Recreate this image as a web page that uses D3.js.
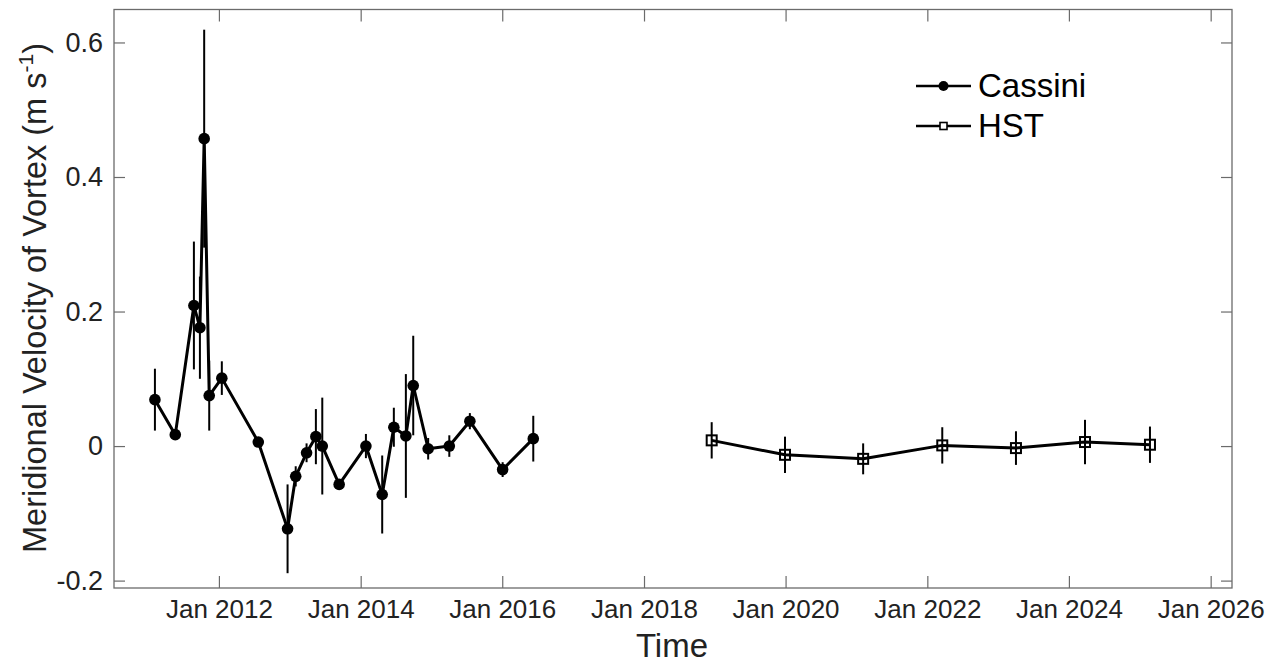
<!DOCTYPE html>
<html>
<head>
<meta charset="utf-8">
<script src="https://cdn.jsdelivr.net/npm/d3@7"></script>
<style>
  html, body { margin: 0; padding: 0; background: #fff; }
  svg { display: block; font-family: "Liberation Sans", Arial, Helvetica, sans-serif; }
</style>
</head>
<body>
<svg id="chart" width="1276" height="666"></svg>
<script>
// ---- Data ----
const cassiniDates = ["2011-02-05","2011-05-21","2011-08-25","2011-09-25","2011-10-17","2011-11-12",
  "2012-01-16","2012-07-22","2012-12-20","2013-01-31","2013-03-28","2013-05-15","2013-06-17",
  "2013-09-12","2014-01-28","2014-04-22","2014-06-21","2014-08-22","2014-09-29","2014-12-15",
  "2015-04-03","2015-07-18","2016-01-03","2016-06-09"];
const cassiniValues = [0.069, 0.017, 0.209, 0.176, 0.457, 0.075, 0.101, 0.006, -0.123, -0.045,
  -0.010, 0.014, 0.000, -0.057, 0.000, -0.072, 0.028, 0.015, 0.090, -0.004, 0.000, 0.037, -0.035, 0.011];
const cassiniErrors = [0.046, 0.007, 0.095, 0.076, 0.162, 0.052, 0.025, 0.004, 0.066, 0.015,
  0.014, 0.041, 0.072, 0.005, 0.018, 0.058, 0.029, 0.092, 0.074, 0.016, 0.016, 0.012, 0.011, 0.034];

const hstDates = ["2018-12-16","2019-12-29","2021-02-04","2022-03-19","2023-04-03","2024-03-24","2025-02-22"];
const hstValues = [0.0085, -0.013, -0.019, 0.001, -0.003, 0.006, 0.002];
const hstErrors = [0.027, 0.027, 0.023, 0.027, 0.025, 0.033, 0.027];

const xTickDates = ["2012-01-01","2014-01-01","2016-01-01","2018-01-01","2020-01-01","2022-01-01","2024-01-01","2026-01-01"];
const xTickLabels = ["Jan 2012","Jan 2014","Jan 2016","Jan 2018","Jan 2020","Jan 2022","Jan 2024","Jan 2026"];
const yTickValues = [-0.2, 0, 0.2, 0.4, 0.6];
const yTickLabels = ["-0.2","0","0.2","0.4","0.6"];
const xLimits = ["2010-07-09","2026-04-21"];
const yLimits = [-0.211, 0.649];
const legendLabels = ["Cassini","HST"];

// ---- Layout ----
const parse = d3.utcParse("%Y-%m-%d");
const svg = d3.select("#chart");
const L = 114, R = 1232, T = 9.5, B = 588;
const axisColor = "#6b6b6b";
const textColor = "#222";

const x = d3.scaleUtc().domain(xLimits.map(parse)).range([L, R]);
const y = d3.scaleLinear().domain(yLimits).range([B, T]);

const cassini = cassiniDates.map((d, i) => ({ date: parse(d), v: cassiniValues[i], e: cassiniErrors[i] }));
const hst = hstDates.map((d, i) => ({ date: parse(d), v: hstValues[i], e: hstErrors[i] }));

// ---- Axes ----
const xTicks = xTickDates.map(parse);
const bottomAxis = d3.axisBottom(x).tickValues(xTicks).tickSizeInner(-12).tickSizeOuter(0)
  .tickPadding(12).tickFormat((d, i) => xTickLabels[i]);
const topAxis = d3.axisTop(x).tickValues(xTicks).tickSizeInner(-12).tickSizeOuter(0).tickFormat("");
const leftAxis = d3.axisLeft(y).tickValues(yTickValues).tickSizeInner(-11).tickSizeOuter(0)
  .tickPadding(11).tickFormat((d, i) => yTickLabels[i]);
const rightAxis = d3.axisRight(y).tickValues(yTickValues).tickSizeInner(-11).tickSizeOuter(0).tickFormat("");

function styleAxis(g) {
  g.select(".domain").remove();
  g.selectAll(".tick line").attr("stroke", axisColor).attr("stroke-width", 1.2);
  g.selectAll(".tick text").attr("fill", textColor);
}
svg.append("g").attr("transform", `translate(0,${B})`).call(bottomAxis).call(styleAxis)
  .selectAll(".tick text").attr("font-size", 26);
svg.append("g").attr("transform", `translate(0,${T})`).call(topAxis).call(styleAxis);
svg.append("g").attr("transform", `translate(${L},0)`).call(leftAxis).call(styleAxis)
  .selectAll(".tick text").attr("font-size", 27);
svg.append("g").attr("transform", `translate(${R},0)`).call(rightAxis).call(styleAxis);

// box
svg.append("rect").attr("x", L).attr("y", T).attr("width", R - L).attr("height", B - T)
  .attr("fill", "none").attr("stroke", axisColor).attr("stroke-width", 1.3);

// axis titles
svg.append("text").attr("x", 672).attr("y", 657).attr("text-anchor", "middle")
  .attr("font-size", 33).attr("fill", textColor).text("Time");

const yl = svg.append("text").attr("transform", `translate(46,298) rotate(-90)`)
  .attr("text-anchor", "middle").attr("font-size", 32.5).attr("fill", textColor);
yl.append("tspan").text("Meridional Velocity of Vortex (m s");
yl.append("tspan").attr("font-size", 21).attr("dy", -13).text("-1");
yl.append("tspan").attr("dy", 13).text(")");

// ---- Data marks ----
const plot = svg.append("g");
const line = d3.line().x(d => x(d.date)).y(d => y(d.v));

function drawSeries(data, marker) {
  plot.append("g").selectAll("line").data(data).join("line")
    .attr("x1", d => x(d.date)).attr("x2", d => x(d.date))
    .attr("y1", d => y(d.v - d.e)).attr("y2", d => y(d.v + d.e))
    .attr("stroke", "#000").attr("stroke-width", 2);
  plot.append("path").datum(data).attr("d", line)
    .attr("fill", "none").attr("stroke", "#000").attr("stroke-width", 3).attr("stroke-linejoin", "round");
  if (marker === "circle") {
    plot.append("g").selectAll("circle").data(data).join("circle")
      .attr("cx", d => x(d.date)).attr("cy", d => y(d.v)).attr("r", 5.8).attr("fill", "#000");
  } else {
    plot.append("g").selectAll("rect").data(data).join("rect")
      .attr("x", d => x(d.date) - 5).attr("y", d => y(d.v) - 5).attr("width", 10).attr("height", 10)
      .attr("fill", "none").attr("stroke", "#000").attr("stroke-width", 2);
  }
}
drawSeries(cassini, "circle");
drawSeries(hst, "square");

// ---- Legend ----
const leg = svg.append("g");
const legRows = [{ label: legendLabels[0], y: 86, m: "circle" }, { label: legendLabels[1], y: 126, m: "square" }];
legRows.forEach(r => {
  leg.append("line").attr("x1", 916).attr("x2", 971).attr("y1", r.y).attr("y2", r.y)
    .attr("stroke", "#000").attr("stroke-width", 2.5);
  if (r.m === "circle") {
    leg.append("circle").attr("cx", 943.5).attr("cy", r.y).attr("r", 5).attr("fill", "#000");
  } else {
    leg.append("rect").attr("x", 940).attr("y", r.y - 3.5).attr("width", 7).attr("height", 7)
      .attr("fill", "#fff").attr("stroke", "#000").attr("stroke-width", 1.6);
  }
  leg.append("text").attr("x", 978).attr("y", r.y + 11).attr("font-size", 33).attr("fill", "#000").text(r.label);
});
</script>
</body>
</html>
